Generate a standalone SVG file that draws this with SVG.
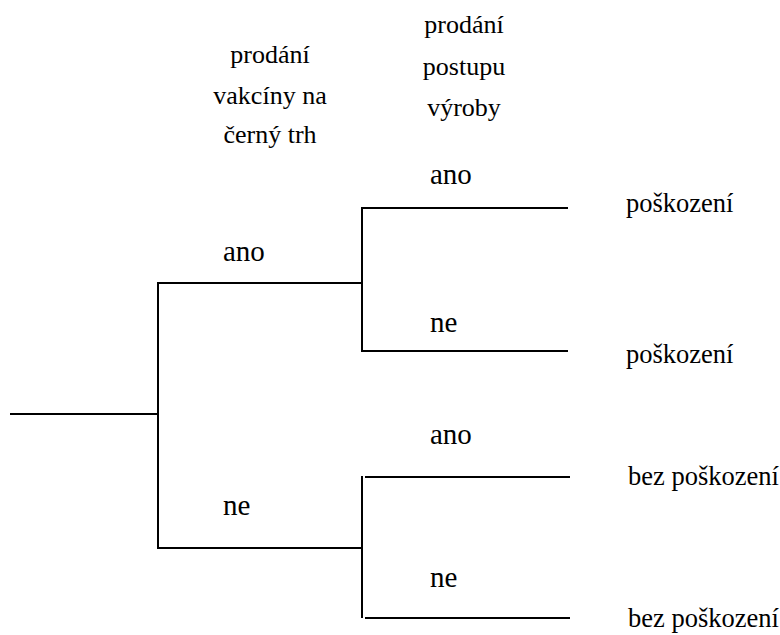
<svg xmlns="http://www.w3.org/2000/svg" width="780" height="635" viewBox="0 0 780 635">
<style>
.ln{stroke:#000;stroke-width:2;fill:none;stroke-linecap:square}
</style>
<rect width="780" height="635" fill="#fff"/>
<g id="header1">
<text style="font-family:'Liberation Serif',serif;font-size:26px" fill="#000" x="270" y="63" text-anchor="middle">prodání</text>
<text style="font-family:'Liberation Serif',serif;font-size:26px" fill="#000" x="270" y="104" text-anchor="middle">vakcíny na</text>
<text style="font-family:'Liberation Serif',serif;font-size:26px" fill="#000" x="270" y="143" text-anchor="middle">černý trh</text>
</g>
<g id="header2">
<text style="font-family:'Liberation Serif',serif;font-size:26px" fill="#000" x="464" y="33" text-anchor="middle">prodání</text>
<text style="font-family:'Liberation Serif',serif;font-size:26px" fill="#000" x="464" y="75" text-anchor="middle">postupu</text>
<text style="font-family:'Liberation Serif',serif;font-size:26px" fill="#000" x="464" y="116" text-anchor="middle">výroby</text>
</g>
<g id="connectors">
<path class="ln" d="M11 414H158"/>
<path class="ln" d="M158 283V548"/>
<path class="ln" d="M158 283H362"/>
<path class="ln" d="M158 548H362"/>
<path class="ln" d="M362 208V351"/>
<path class="ln" d="M362 208H567"/>
<path class="ln" d="M362 351H567"/>
<path class="ln" d="M362 477V617"/>
<path class="ln" d="M366 477H569"/>
<path class="ln" d="M366 618H569"/>
</g>
<g id="label-ano1"><text style="font-family:'Liberation Serif',serif;font-size:29px" fill="#000" x="223" y="261">ano</text></g>
<g id="label-ne1"><text style="font-family:'Liberation Serif',serif;font-size:29px" fill="#000" x="223" y="515">ne</text></g>
<g id="label-ano2"><text style="font-family:'Liberation Serif',serif;font-size:29px" fill="#000" x="430" y="184">ano</text></g>
<g id="label-ne2"><text style="font-family:'Liberation Serif',serif;font-size:29px" fill="#000" x="430" y="332">ne</text></g>
<g id="label-ano3"><text style="font-family:'Liberation Serif',serif;font-size:29px" fill="#000" x="430" y="444">ano</text></g>
<g id="label-ne3"><text style="font-family:'Liberation Serif',serif;font-size:29px" fill="#000" x="430" y="587">ne</text></g>
<g id="outcome1"><text font-family="Liberation Serif" font-size="26.5" fill="#000" x="626" y="212">poškození</text></g>
<g id="outcome2"><text font-family="Liberation Serif" font-size="26.5" fill="#000" x="626" y="363">poškození</text></g>
<g id="outcome3"><text font-family="Liberation Serif" font-size="26.5" fill="#000" x="628" y="485">bez poškození</text></g>
<g id="outcome4"><text font-family="Liberation Serif" font-size="26.5" fill="#000" x="628" y="627">bez poškození</text></g>
</svg>
